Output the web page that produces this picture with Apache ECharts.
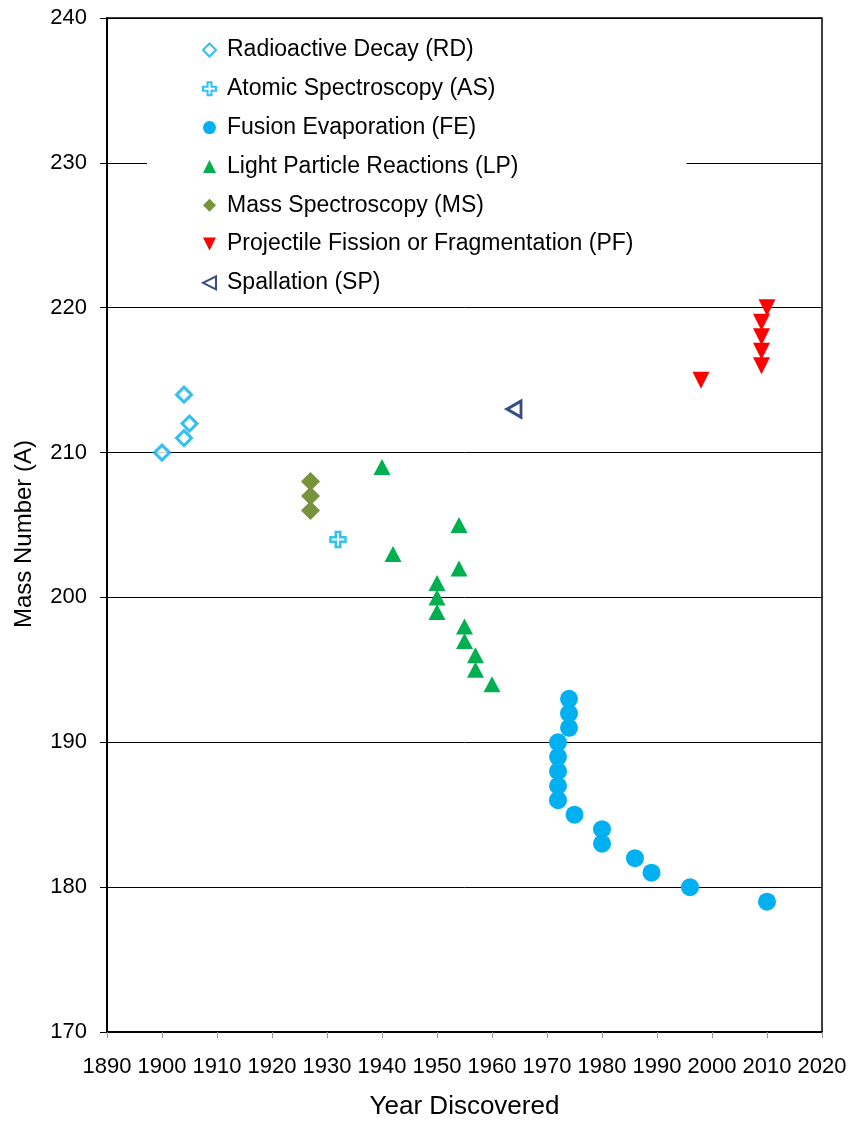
<!DOCTYPE html>
<html>
<head>
<meta charset="utf-8">
<script src="https://cdn.jsdelivr.net/npm/echarts@6/dist/echarts.min.js"></script>
<style>
html,body{margin:0;padding:0;background:#fff;}
#chart{width:851px;height:1122px;}
</style>
</head>
<body>
<div id="chart"></div>
<script>
// Year discovered / mass number per production method
const rdYears = [1900, 1904, 1905, 1904];
const rdMass  = [210, 214, 212, 211];
const asYears = [1932];
const asMass  = [204];
const feYears = [1972, 1972, 1972, 1972, 1972, 1974, 1974, 1974, 1975, 1980, 1980, 1986, 1989, 1996, 2010];
const feMass  = [190, 189, 188, 187, 186, 193, 192, 191, 185, 184, 183, 182, 181, 180, 179];
const lpYears = [1940, 1942, 1950, 1950, 1950, 1954, 1954, 1955, 1955, 1957, 1957, 1960];
const lpMass  = [209, 203, 201, 200, 199, 205, 202, 198, 197, 196, 195, 194];
const msYears = [1927, 1927, 1927];
const msMass  = [208, 207, 206];
const pfYears = [1998, 2010, 2009, 2009, 2009, 2009];
const pfMass  = [215, 220, 219, 218, 217, 216];
const spYears = [1964];
const spMass  = [213];

const seriesNames = [
  'Radioactive Decay (RD)',
  'Atomic Spectroscopy (AS)',
  'Fusion Evaporation (FE)',
  'Light Particle Reactions (LP)',
  'Mass Spectroscopy (MS)',
  'Projectile Fission or Fragmentation (PF)',
  'Spallation (SP)'
];

const zip = (xs, ys) => xs.map((x, i) => [x, ys[i]]);
const FONT = '"Liberation Sans", Arial, sans-serif';
const PLUS = 'path://M3.5,0 H6.5 V3.5 H10 V6.5 H6.5 V10 H3.5 V6.5 H0 V3.5 H3.5 Z';
const DOWN_TRI = 'path://M0,0 L10,0 L5,10 Z';
const LEFT_TRI = 'path://M0,5 L10,0 L10,10 Z';

const legendIcons = ['diamond', PLUS, 'circle', 'triangle', 'diamond', DOWN_TRI, LEFT_TRI];

const chart = echarts.init(document.getElementById('chart'), null, {renderer: 'canvas'});
chart.setOption({
  animation: false,
  backgroundColor: '#fff',
  textStyle: {fontFamily: FONT},
  grid: {left: 107, right: 29, top: 18, bottom: 90, outerBoundsMode: 'none', containLabel: false,
         show: true, borderColor: '#000', borderWidth: 1.5, backgroundColor: 'transparent'},
  legend: {
    orient: 'vertical',
    left: 147,
    top: 27,
    padding: [10, 53, 10, 55],
    backgroundColor: '#fff',
    itemWidth: 13,
    itemHeight: 13,
    itemGap: 12.8,
    data: seriesNames.map((n, i) => ({name: n, icon: legendIcons[i]})),
    textStyle: {fontFamily: FONT, fontSize: 23, color: '#000', lineHeight: 26, padding: [0, 0, 0, 6]}
  },
  xAxis: {
    type: 'value', min: 1890, max: 2020, interval: 10,
    name: 'Year Discovered', nameLocation: 'middle', nameGap: 62,
    nameTextStyle: {fontFamily: FONT, fontSize: 26, color: '#000'},
    axisLine: {show: true, lineStyle: {color: '#000', width: 2}},
    axisTick: {show: true, inside: false, length: 6, lineStyle: {color: '#999', width: 1}},
    axisLabel: {fontFamily: FONT, fontSize: 22, color: '#000', margin: 24, formatter: v => String(v)},
    splitLine: {show: false}
  },
  yAxis: {
    type: 'value', min: 170, max: 240, interval: 10,
    name: 'Mass Number (A)', nameLocation: 'middle', nameGap: 71, nameRotate: 90,
    nameTextStyle: {fontFamily: FONT, fontSize: 24, color: '#000', padding: [0, 18, 0, 0]},
    axisLine: {show: true, lineStyle: {color: '#000', width: 2}},
    axisTick: {show: true, inside: false, length: 7, lineStyle: {color: '#000', width: 1}},
    axisLabel: {fontFamily: FONT, fontSize: 22, color: '#000', margin: 20, formatter: v => String(v)},
    splitLine: {show: true, lineStyle: {color: '#000', width: 1}}
  },
  series: [
    {name: seriesNames[0], type: 'scatter', data: zip(rdYears, rdMass), symbol: 'diamond', symbolSize: 15,
     itemStyle: {color: '#fff', borderColor: '#00B0F0', borderWidth: 3}},
    {name: seriesNames[1], type: 'scatter', data: zip(asYears, asMass), symbol: PLUS, symbolSize: 15,
     itemStyle: {color: '#fff', borderColor: '#00B0F0', borderWidth: 2.5}},
    {name: seriesNames[2], type: 'scatter', data: zip(feYears, feMass), symbol: 'circle', symbolSize: 18,
     itemStyle: {color: '#00B0F0', opacity: 1}},
    {name: seriesNames[3], type: 'scatter', data: zip(lpYears, lpMass), symbol: 'triangle', symbolSize: [17, 16],
     itemStyle: {color: '#00B050', opacity: 1}},
    {name: seriesNames[4], type: 'scatter', data: zip(msYears, msMass), symbol: 'diamond', symbolSize: 19,
     itemStyle: {color: '#77933C', opacity: 1}},
    {name: seriesNames[5], type: 'scatter', data: zip(pfYears, pfMass), symbol: 'triangle', symbolRotate: 180, symbolSize: [17, 17],
     itemStyle: {color: '#FF0000', opacity: 1}},
    {name: seriesNames[6], type: 'scatter', data: zip(spYears, spMass), symbol: 'triangle', symbolRotate: 90, symbolSize: [16, 14],
     itemStyle: {color: '#fff', borderColor: '#002060', borderWidth: 3}}
  ]
});
</script>
</body>
</html>
